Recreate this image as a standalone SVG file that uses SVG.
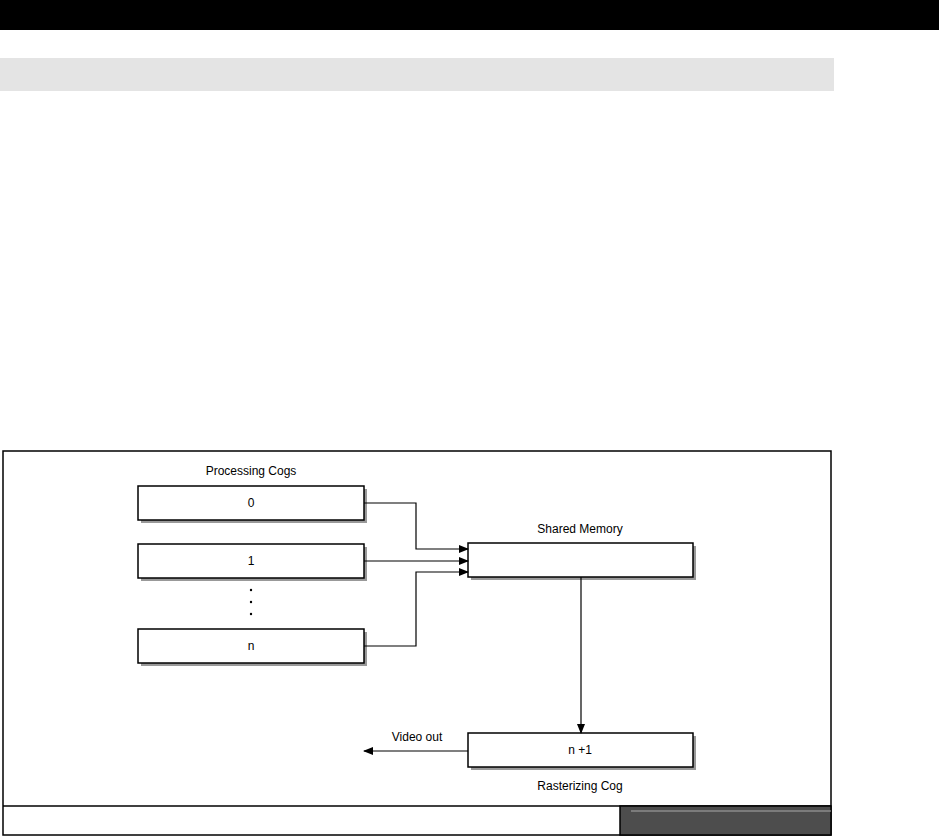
<svg xmlns="http://www.w3.org/2000/svg" width="939" height="837" viewBox="0 0 939 837">
<style>
.t{font-family:"Liberation Sans",Arial,sans-serif;font-size:12px;fill:#000;text-anchor:middle}
.box{fill:#fff;stroke:#000;stroke-width:1.5}
.sh{fill:#999}
.ln{fill:none;stroke:#000;stroke-width:1.2}
</style>
<defs>
<marker id="ah" markerWidth="10" markerHeight="8" refX="9" refY="4" orient="auto" markerUnits="userSpaceOnUse">
<path d="M0,0 L10,4 L0,8 Z" fill="#000"/>
</marker>
</defs>
<rect x="0" y="0" width="939" height="30" fill="#000"/>
<rect x="0" y="58" width="834" height="33" fill="#e4e4e4"/>
<rect x="3" y="451" width="828" height="384" fill="#fff" stroke="#000" stroke-width="1.5"/>
<line x1="3" y1="806" x2="831" y2="806" stroke="#000" stroke-width="1.5"/>
<rect x="620" y="806" width="211" height="29" fill="#4d4d4d" stroke="#000" stroke-width="1.5"/>
<line x1="631" y1="811" x2="831" y2="811" stroke="#aaa" stroke-width="1"/>
<text class="t" x="251" y="475">Processing Cogs</text>
<g id="cog0"><rect class="sh" x="141" y="489" width="226" height="34"/><rect class="box" x="138" y="486" width="226" height="34"/><text class="t" x="251" y="507">0</text></g>
<g id="cog1"><rect class="sh" x="141" y="547" width="226" height="34"/><rect class="box" x="138" y="544" width="226" height="34"/><text class="t" x="251" y="565">1</text></g>
<g id="dots" fill="#000"><circle cx="251" cy="590" r="1.2"/><circle cx="251" cy="602" r="1.2"/><circle cx="251" cy="614" r="1.2"/></g>
<g id="cogn"><rect class="sh" x="141" y="632" width="226" height="34"/><rect class="box" x="138" y="629" width="226" height="34"/><text class="t" x="251" y="650">n</text></g>
<g id="shared"><text class="t" x="580" y="533">Shared Memory</text><rect class="sh" x="471" y="546" width="225" height="34"/><rect class="box" x="468" y="543" width="225" height="34"/></g>
<g id="raster"><rect class="sh" x="471" y="736" width="225" height="34"/><rect class="box" x="468" y="733" width="225" height="34"/><text class="t" x="580" y="754">n +1</text><text class="t" x="580" y="790">Rasterizing Cog</text></g>
<g id="connectors">
<polyline class="ln" points="364,503 416,503 416,549 468,549" marker-end="url(#ah)"/>
<line class="ln" x1="364" y1="561" x2="468" y2="561" marker-end="url(#ah)"/>
<polyline class="ln" points="364,646 416,646 416,572 468,572" marker-end="url(#ah)"/>
<line class="ln" x1="581" y1="577" x2="581" y2="733" marker-end="url(#ah)"/>
<line class="ln" x1="468" y1="751" x2="364" y2="751" marker-end="url(#ah)"/>
<text class="t" x="417" y="741">Video out</text>
</g>
</svg>
